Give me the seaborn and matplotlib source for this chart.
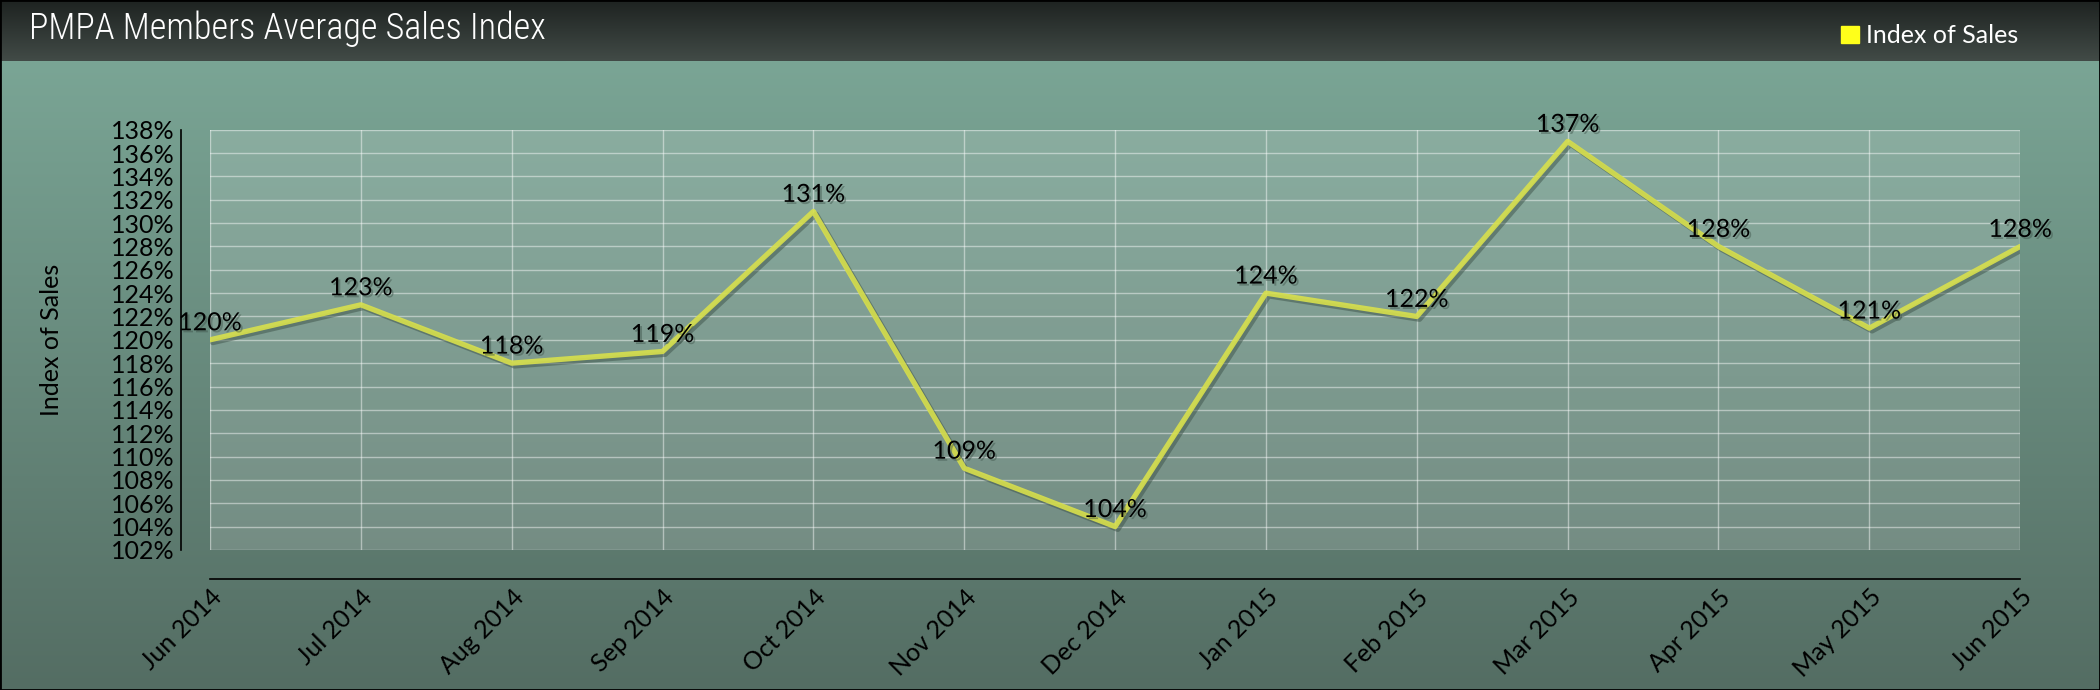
import numpy as np
import pandas as pd
import seaborn as sns
from matplotlib import pyplot as plt
from matplotlib import patheffects as pe
from matplotlib import font_manager
from matplotlib.patches import Patch
from matplotlib.colors import LinearSegmentedColormap

# data
months = ["Jun 2014", "Jul 2014", "Aug 2014", "Sep 2014", "Oct 2014", "Nov 2014",
          "Dec 2014", "Jan 2015", "Feb 2015", "Mar 2015", "Apr 2015", "May 2015",
          "Jun 2015"]
sales_index = [120, 123, 118, 119, 131, 109, 104, 124, 122, 137, 128, 121, 128]
y_ticks = list(range(102, 139, 2))

df = pd.DataFrame({"pos": range(len(months)), "month": months, "index": sales_index})

sns.set_theme(style="white")
plt.rcParams["font.family"] = ["Lato", "DejaVu Sans"]

# narrow font for the title if there is one
names = {f.name for f in font_manager.fontManager.ttflist}
title_font = dict(family="DejaVu Sans", fontsize=24)
for narrow in ["Roboto Condensed", "Liberation Sans Narrow", "Open Sans Condensed"]:
    if narrow in names:
        title_font = dict(family=narrow, fontsize=26, fontweight="light")
        break

fig = plt.figure(figsize=(21, 6.9), dpi=100)

# background: dark title bar + green gradient body
bg = fig.add_axes([0, 0, 1, 1], zorder=-10)
bg.set_axis_off()
body = LinearSegmentedColormap.from_list("body", ["#546d63", "#7aa595"])
bar = LinearSegmentedColormap.from_list("bar", ["#424b47", "#1d2220"])
grad = np.linspace(0, 1, 256).reshape(-1, 1)
bg.imshow(grad, cmap=body, aspect="auto", extent=[0, 1, 0, 0.911], origin="lower")
bg.imshow(grad, cmap=bar, aspect="auto", extent=[0, 1, 0.911, 1], origin="lower")
bg.set_xlim(0, 1)
bg.set_ylim(0, 1)
fig.patches.append(plt.Rectangle((0, 0), 1, 1, transform=fig.transFigure,
                                 fill=False, edgecolor="black", linewidth=2))

ax = fig.add_axes([0.100, 0.203, 0.862, 0.609])
ax.set_facecolor((1, 1, 1, 0.15))

line_shadow = [pe.SimpleLineShadow(offset=(2, -2), shadow_color="#3d5249", alpha=0.5),
               pe.Normal()]
sns.lineplot(data=df, x="pos", y="index", ax=ax, color="#d8e04c", linewidth=3.8,
             alpha=0.9, sort=False, label="Index of Sales")
for ln in ax.lines:
    ln.set_path_effects(line_shadow)
ax.legend_.remove()

sns.despine(ax=ax, offset=21)
for side in ["left", "bottom"]:
    ax.spines[side].set_color("black")
    ax.spines[side].set_linewidth(1.2)

text_shadow = [pe.withSimplePatchShadow(offset=(1.5, -1.5), shadow_rgbFace="#3d5249", alpha=0.45)]
for i, v in enumerate(sales_index):
    ax.annotate(f"{v}%", (i, v), xytext=(0, 4), textcoords="offset points",
                ha="center", va="bottom", fontsize=18, color="black",
                path_effects=text_shadow)

ax.set_xlim(0, len(months) - 1)
ax.set_ylim(102, 138)
ax.set_xticks(df["pos"])
ax.set_xticklabels(months)
ax.set_yticks(y_ticks)
ax.set_yticklabels([f"{t}%" for t in y_ticks])
ax.tick_params(axis="both", length=5, width=1, color="black", direction="inout",
               pad=2, labelsize=18, labelcolor="black")
for lbl in ax.get_xticklabels():
    lbl.set_rotation(45)
    lbl.set_ha("right")
    lbl.set_rotation_mode("anchor")
ax.grid(True, color="white", alpha=0.45, linewidth=1)
ax.set_xlabel("")
ax.set_ylabel("Index of Sales", fontsize=18, color="black")
ax.yaxis.set_label_coords(-0.081, 0.5)

fig.text(0.014, 0.958, "PMPA Members Average Sales Index", color="white",
         va="center", **title_font)

fig.legend(handles=[Patch(color="#ffff1a")], labels=["Index of Sales"],
           loc="center left", bbox_to_anchor=(0.866, 0.948), frameon=False,
           handlelength=0.7, handleheight=0.7, handletextpad=0.3,
           labelcolor="white", fontsize=18)

fig.savefig("out.png", dpi=100)
